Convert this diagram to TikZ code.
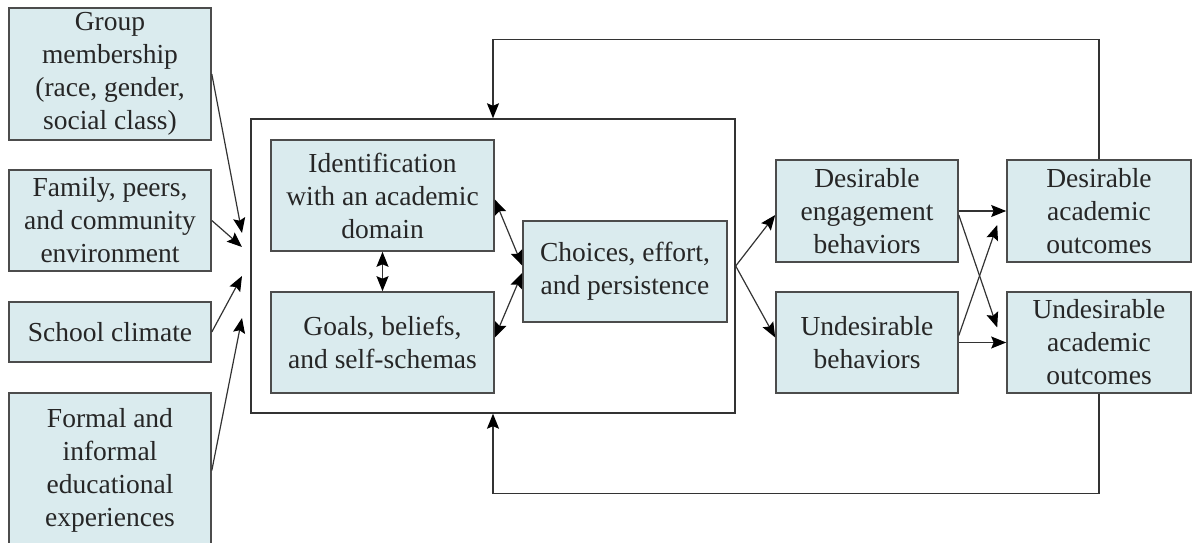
\documentclass[tikz,border=0pt]{standalone}
\usepackage{fontspec}
\setmainfont{Liberation Serif}
\usetikzlibrary{arrows.meta}
\definecolor{boxfill}{RGB}{218,235,238}
\tikzset{
  factor/.style={draw=black!70,line width=1.6pt,fill=boxfill,align=center,inner sep=0pt,
    text=black!85,font=\fontsize{27.5}{33}\selectfont},
  link/.style={black!80,line width=1.2pt},
}
\begin{document}
\begin{tikzpicture}[x=1pt,y=-1pt,>={Stealth[length=15pt,width=12pt,inset=2.5pt,black]}]
		\useasboundingbox (0,0) rectangle (1195,543);
		\node[factor,minimum width=202,minimum height=132] (grp) at (110,74) {Group\\membership\\(race, gender,\\social class)};
		\node[factor,minimum width=202,minimum height=101] (fam) at (110,220.5) {Family, peers,\\and community\\environment};
		\node[factor,minimum width=202,minimum height=60] (sch) at (110,332) {School climate};
		\node[factor,minimum width=202,minimum height=155] (frm) at (110,470.5) {Formal and\\informal\\educational\\experiences};
		\node[draw=black!80,line width=1.4pt,minimum width=484,minimum height=294] (frame) at (493,266) {};
		\node[factor,minimum width=223,minimum height=111] (ident) at (382.5,195.5) {Identification\\with an academic\\domain};
		\node[factor,minimum width=223,minimum height=101] (goals) at (382.5,342.5) {Goals, beliefs,\\and self-schemas};
		\node[factor,minimum width=204,minimum height=101] (choice) at (625,271.5) {Choices, effort,\\and persistence};
		\node[factor,minimum width=182,minimum height=102] (engage) at (867,211) {Desirable\\engagement\\behaviors};
		\node[factor,minimum width=182,minimum height=101] (undes) at (867,342.5) {Undesirable\\behaviors};
		\node[factor,minimum width=184,minimum height=102] (dout) at (1099,211) {Desirable\\academic\\outcomes};
		\node[factor,minimum width=184,minimum height=101] (uout) at (1099,342.5) {Undesirable\\academic\\outcomes};
		\coordinate (t1) at (242,233);
		\coordinate (t2) at (242,247);
		\coordinate (t3) at (242,276);
		\coordinate (t4) at (242,318);
		\draw[link,->] (grp.east) -- (t1);
		\draw[link,->] (fam.east) -- (t2);
		\draw[link,->] (sch.east) -- (t3);
		\draw[link,->] (frm.east) -- (t4);
		\draw[link,<->] (ident.south) -- (goals.north);
		\draw[link,<->] ([yshift=-4pt]ident.east) -- ([yshift=6pt]choice.west);
		\draw[link,<->] ([yshift=5pt]goals.east) -- ([yshift=-1.5pt]choice.west);
		\draw[link,->] (frame.east) -- ([yshift=-4pt]engage.west);
		\draw[link,->] (frame.east) -- ([yshift=5pt]undes.west);
		\draw[link,->] (engage.east) -- (dout.west);
		\draw[link,->] ([yshift=-4pt]engage.east) -- ([xshift=-9pt,yshift=15pt]uout.west);
		\draw[link,->] (undes.east) -- (uout.west);
		\draw[link,->] ([yshift=7pt]undes.east) -- ([xshift=-9pt,yshift=-14pt]dout.west);
		\draw[link,->] (dout.north) -- ++(0,-120) -| (frame.north);
		\draw[link,->] (uout.south) -- ++(0,100) -| (frame.south);
		\end{tikzpicture}
\end{document}
